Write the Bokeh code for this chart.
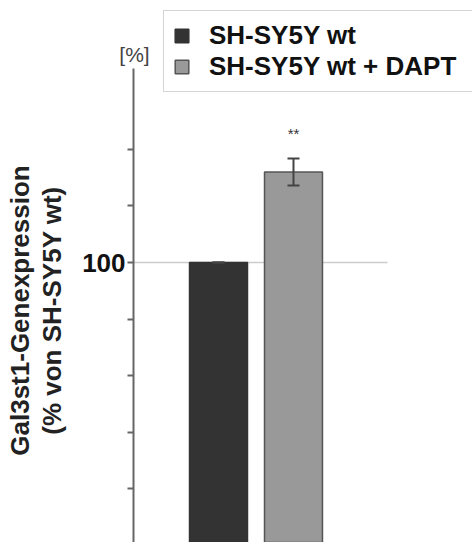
import math
from bokeh.plotting import figure
from bokeh.models import (ColumnDataSource, Range1d, FixedTicker, Whisker, TeeHead,
                          Label, Legend, LegendItem)
from bokeh.core.properties import value
from bokeh.embed import file_html
from bokeh.resources import INLINE

# Gal3st1 expression relative to untreated SH-SY5Y cells
groups = ["SH-SY5Y wt", "SH-SY5Y wt + DAPT"]
expression = [100.0, 132.0]
sem = [0.0, 4.8]
significance = ["", "**"]
bar_colors = ["#333333", "#999999"]
bar_lines = ["#333333", "#555555"]

reference_level = 100
minor_ticks = [20, 40, 60, 80, 120, 140]
axis_top = 168.5
y_title = ["Gal3st1-Genexpression", "(% von SH-SY5Y wt)"]
unit_text = "[%]"

FONT = "Liberation Sans"
AXIS_X = -0.133          # where the value axis sits along x

positions = [i + 1 for i in range(len(groups))]
upper = [v + e for v, e in zip(expression, sem)]
lower = [v - e for v, e in zip(expression, sem)]

src = ColumnDataSource(dict(x=positions, top=expression, group=groups,
                            fill=bar_colors, line=bar_lines,
                            upper=upper, lower=lower, star=significance))

p = figure(width=472, height=542, output_backend="svg", toolbar_location=None,
           x_range=Range1d(-1.907, 4.387), y_range=Range1d(1.06, 192.6),
           min_border_left=0, min_border_top=0, min_border_bottom=0,
           min_border_right=0, background_fill_color="white",
           border_fill_color="white", outline_line_color=None)

# reference line at 100 %
p.segment(x0=[AXIS_X], x1=[3.253], y0=[reference_level], y1=[reference_level],
          line_color="#cccccc", line_width=1.5)

bars = p.vbar(x="x", top="top", bottom=0, width=0.773, source=src,
              fill_color="fill", line_color="line", line_width=1.5)

p.add_layout(Whisker(base="x", upper="upper", lower="lower", source=src,
                     level="overlay", line_color="#444444", line_width=2,
                     upper_head=TeeHead(size=12, line_color="#444444", line_width=2),
                     lower_head=TeeHead(size=12, line_color="#444444", line_width=2)))

p.text(x="x", y="upper", text="star", source=src, text_align="center",
       text_baseline="middle", y_offset=-25, text_font=value(FONT),
       text_font_size="15px", text_color="#333333")

# axes
p.xaxis.visible = False
p.xgrid.visible = False
p.ygrid.visible = False

ax = p.yaxis[0]
ax.fixed_location = AXIS_X
ax.bounds = (0, axis_top)
ax.ticker = FixedTicker(ticks=[reference_level], minor_ticks=minor_ticks)
ax.axis_line_color = "#666666"
ax.axis_line_width = 2
ax.major_tick_line_color = "#666666"
ax.major_tick_line_width = 2
ax.major_tick_in = 0
ax.major_tick_out = 6
ax.minor_tick_line_color = "#666666"
ax.minor_tick_line_width = 2
ax.minor_tick_in = 0
ax.minor_tick_out = 6
ax.major_label_text_font = FONT
ax.major_label_text_font_style = "bold"
ax.major_label_text_font_size = "26px"
ax.major_label_text_color = "#111111"
ax.major_label_standoff = 2

# two-line rotated axis title
for text, sx in zip(y_title, [19, 51]):
    p.add_layout(Label(x=sx, y=232, x_units="screen", y_units="screen", text=text,
                       angle=math.pi / 2, text_align="center", text_baseline="middle",
                       text_font=FONT, text_font_style="bold",
                       text_font_size="26px", text_color="#222222"))

p.add_layout(Label(x=134, y=488, x_units="screen", y_units="screen", text=unit_text,
                   text_align="center", text_baseline="alphabetic",
                   text_font=FONT, text_font_size="21px", text_color="#444444"))

# legend with a swatch per bar
legend = Legend(items=[LegendItem(label=n, renderers=[bars], index=i)
                       for i, n in enumerate(groups)],
                location=(163, 450), orientation="vertical",
                label_text_font=FONT, label_text_font_style="bold",
                label_text_font_size="26px", label_text_color="#111111",
                glyph_width=17, glyph_height=17, label_standoff=19,
                label_height=27, label_width=300, spacing=0, padding=9, margin=0,
                border_line_color="#aaaaaa", border_line_width=1.5,
                background_fill_color="white", background_fill_alpha=1.0)
p.add_layout(legend)

open("out.html", "w").write(file_html(p, INLINE))
